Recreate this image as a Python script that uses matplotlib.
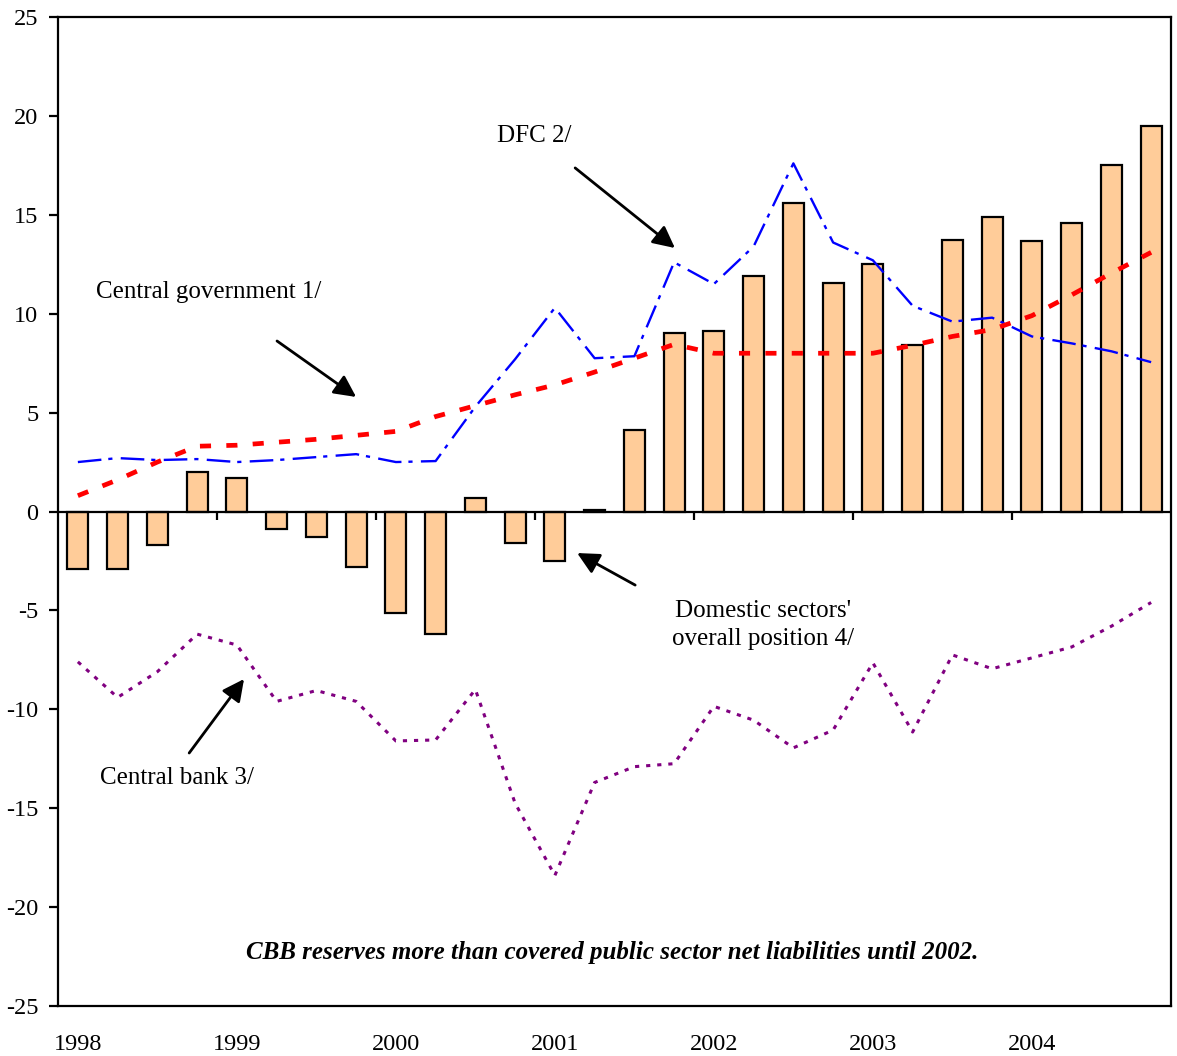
import numpy as np
import matplotlib
matplotlib.use("Agg")
import matplotlib.pyplot as plt

plt.rcParams['font.family'] = ['Liberation Serif', 'DejaVu Serif']
plt.rcParams['axes.unicode_minus'] = False
plt.rcParams['lines.scale_dashes'] = False

# ---- data (quarterly, 1998Q1 - 2004Q4) ----
years = ['1998', '1999', '2000', '2001', '2002', '2003', '2004']
overall_position = [-2.9, -2.9, -1.7, 2.0, 1.7, -0.9, -1.3, -2.8,
                    -5.15, -6.2, 0.7, -1.6, -2.5, 0.1, 4.1, 9.0,
                    9.15, 11.9, 15.6, 11.55, 12.5, 8.4, 13.75, 14.9,
                    13.7, 14.6, 17.5, 19.5]
central_government = [0.8, 1.6, 2.5, 3.3, 3.35, 3.5, 3.65, 3.85,
                      4.05, 4.8, 5.35, 5.9, 6.4, 7.05, 7.75, 8.45,
                      8.0, 8.0, 8.0, 8.0, 8.0, 8.4, 8.85, 9.2,
                      9.9, 10.95, 12.05, 13.1]
dfc = [2.5, 2.7, 2.6, 2.65, 2.5, 2.6, 2.75, 2.9,
       2.5, 2.55, 5.3, 7.7, 10.3, 7.75, 7.85, 12.6,
       11.5, 13.4, 17.6, 13.6, 12.7, 10.4, 9.6, 9.8,
       8.85, 8.5, 8.1, 7.55]
central_bank = [-7.6, -9.4, -8.1, -6.2, -6.75, -9.6, -9.05, -9.6,
                -11.6, -11.55, -9.0, -14.75, -18.4, -13.7, -12.9, -12.75,
                -9.85, -10.55, -11.95, -11.05, -7.65, -11.15, -7.25, -7.95,
                -7.4, -6.85, -5.8, -4.6]
yticks = [-25, -20, -15, -10, -5, 0, 5, 10, 15, 20, 25]

n = len(overall_position)
x = np.arange(n)

fig = plt.figure(figsize=(11.77, 10.56), dpi=100)
ax = fig.add_axes([58/1177, 1-1006/1056, (1171-58)/1177, (1006-17)/1056])

ax.bar(x, overall_position, width=0.53, color='#FFCC99', edgecolor='black',
       linewidth=1.6, zorder=2)

ax.axhline(0, color='black', lw=1.6, zorder=3)
# ticks on the zero line at year boundaries
bounds = np.arange(4, n, 4) - 0.5
ax.vlines(bounds, -0.45, 0, color='black', lw=1.6, zorder=3)

l1, = ax.plot(x, dfc, color='#0000FF', lw=1.7, zorder=4)
l1.set_dashes([17, 5, 3, 6])
l2, = ax.plot(x, central_government, color='#FF0000', lw=3.4, zorder=5)
l2.set_dashes([8, 11])
l3, = ax.plot(x, central_bank, color='#800080', lw=2.2, zorder=4)
l3.set_dashes([3, 5])

ax.set_xlim(-0.5, n - 0.5)
ax.set_ylim(-25, 25)
ax.set_yticks(yticks)
ax.set_yticklabels([str(v) for v in yticks], fontsize=17.5)
ax.set_xticks(np.arange(0, n, 4))
ax.set_xticklabels(years, fontsize=17.5)
ax.tick_params(axis='x', length=0, pad=20)
ax.tick_params(axis='y', length=6.2, width=1.6, pad=8, direction='out')
for s in ax.spines.values():
    s.set_linewidth(1.6)
    s.set_color('black')

ap = dict(arrowstyle='-|>', color='black', lw=2, mutation_scale=33,
          shrinkA=0, shrinkB=0)
fs = 18
ax.annotate('', xy=(15.02, 13.32), xytext=(12.51, 17.37), arrowprops=ap, zorder=6)
ax.annotate('', xy=(7.0, 5.79), xytext=(5.01, 8.62), arrowprops=ap, zorder=6)
ax.annotate('', xy=(12.56, -2.10), xytext=(14.02, -3.72), arrowprops=ap, zorder=6)
ax.annotate('', xy=(4.18, -8.47), xytext=(2.8, -12.21), arrowprops=ap, zorder=6)

ax.text(10.54, 18.98, 'DFC 2/', fontsize=fs, ha='left', va='center')
ax.text(0.456, 11.1, 'Central government 1/', fontsize=fs, ha='left', va='center')
ax.text(17.24, -5.74, "Domestic sectors'\noverall position 4/", fontsize=fs,
        ha='center', va='center', linespacing=1.35)
ax.text(0.557, -13.47, 'Central bank 3/', fontsize=fs, ha='left', va='center')
ax.text(13.44, -22.32,
        'CBB reserves more than covered public sector net liabilities until 2002.',
        fontsize=fs, ha='center', va='center', fontweight='bold', fontstyle='italic')

fig.savefig('out.png', dpi=100)
